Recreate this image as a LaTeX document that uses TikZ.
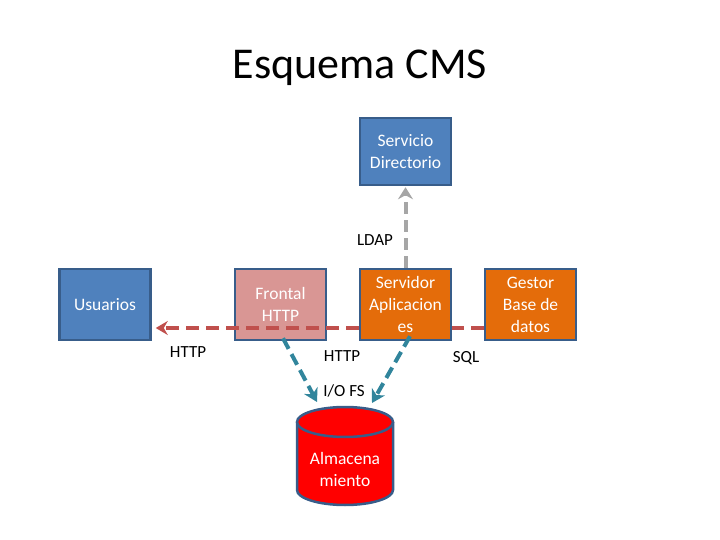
\documentclass[tikz,border=0pt]{standalone}
\usepackage{fontspec}
\setmainfont{Carlito}
\usetikzlibrary{arrows.meta}
\definecolor{bfill}{HTML}{4F81BD}
\definecolor{bdraw}{HTML}{385D8A}
\definecolor{pfill}{HTML}{D99694}
\definecolor{ofill}{HTML}{E46C0A}
\definecolor{tealc}{HTML}{31859C}
\definecolor{redl}{HTML}{C0504D}
\definecolor{greyl}{HTML}{A6A6A6}
\tikzset{
  boxn/.style={rectangle, draw=bdraw, line width=2.5pt, text=white, align=center,
    minimum width=91pt, minimum height=71pt, inner sep=0pt,
    font=\fontsize{17.5}{22}\selectfont},
  lbl/.style={text=black, font=\fontsize{17}{20}\selectfont, inner sep=0pt},
  redarrow/.style={draw=redl, line width=3.5pt, dash pattern=on 13pt off 7pt},
  tealarrow/.style={draw=tealc, line width=4pt, dash pattern=on 12pt off 6pt,
    -{Stealth[length=13pt,width=15pt,inset=4pt]}},
  greyarrow/.style={draw=greyl, line width=4pt, dash pattern=on 12pt off 6pt,
    -{Stealth[length=12pt,width=15pt,inset=4pt]}}
}
\begin{document}
\begin{tikzpicture}[x=1pt,y=-1pt]
\useasboundingbox (0,0) rectangle (720,540);
\node[font=\fontsize{44}{50}\selectfont] (title) at (360,68) {Esquema CMS};
\node[boxn, fill=bfill, minimum height=67pt] (dir) at (405.5,151.5) {Servicio\\Directorio};
\node[boxn, fill=bfill] (usu) at (105,304.5) {Usuarios};
\node[boxn, fill=pfill] (fro) at (280.5,304.5) {Frontal\\HTTP};
\node[boxn, fill=ofill] (ser) at (405.5,304.5) {Servidor\\Aplicacion\\es};
\node[boxn, fill=ofill] (ges) at (530.5,304.5) {Gestor\\Base de\\datos};
\coordinate (ry) at (0,328);
\draw[redarrow] (ges.west |- ry) -- (ser.east |- ry);
\draw[redarrow, -{Stealth[length=12pt,width=14pt,inset=4pt]}] (ser.west |- ry) -- ([xshift=4pt]usu.east |- ry);
\draw[greyarrow] (ser.north) -- ([yshift=-1pt]dir.south);
% cylinder
\fill[red] (297,422) -- (297,490) arc[start angle=180,end angle=0,x radius=48,y radius=15] -- (393,422) -- cycle;
\draw[bdraw, line width=2.5pt] (297,422) -- (297,490)
  arc[start angle=180,end angle=0,x radius=48,y radius=15] -- (393,422);
\draw[bdraw, line width=2.5pt, fill=red] (345,422) ellipse[x radius=48, y radius=15];
\node[text=white, align=center, font=\fontsize{17.5}{22}\selectfont] (alm) at (345,469) {Almacena\\miento};
\coordinate (tl) at (317,402);
\coordinate (tr) at (372,403);
\draw[tealarrow] ([xshift=2.5pt,yshift=3pt]fro.south) -- (tl);
\draw[tealarrow] ([xshift=4.5pt,yshift=5pt]ser.south) -- (tr);
\node[lbl] (ldap) at (375,240) {LDAP};
\node[lbl] (h1) at (188,352) {HTTP};
\node[lbl] (h2) at (342,356) {HTTP};
\node[lbl] (sql) at (466,358) {SQL};
\node[lbl] (io) at (344,391) {I/O FS};
\end{tikzpicture}
\end{document}
